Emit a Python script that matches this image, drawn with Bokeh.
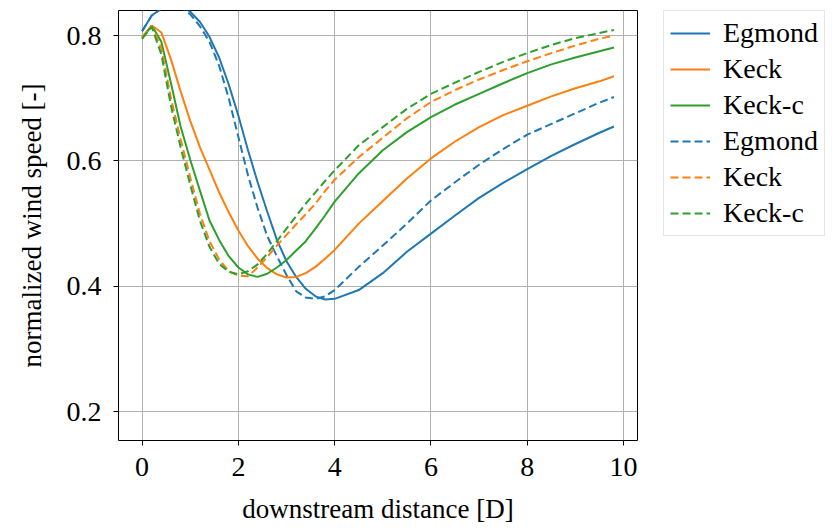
from bokeh.plotting import figure
from bokeh.models import Legend, LegendItem, FixedTicker, Range1d
from bokeh.layouts import row
from bokeh.embed import file_html
from bokeh.resources import INLINE

# downstream distance [D]
distance = [0, 0.2, 0.4, 0.6, 0.8, 1.0, 1.2, 1.4, 1.6, 1.8, 2.0, 2.2, 2.4, 2.6, 2.8,
            3.0, 3.2, 3.4, 3.6, 3.8, 4.0, 4.5, 5.0, 5.5, 6.0, 6.5, 7.0, 7.5, 8.0,
            8.5, 9.0, 9.5, 9.8]

# solid series
egmond_a = [.807, .832, .843, .850, .848, .838, .822, .798, .765, .722, .672, .617, .566,
            .519, .474, .440, .415, .396, .384, .379, .380, .394, .421, .455, .484,
            .513, .541, .565, .587, .608, .627, .645, .655]
keck_a = [.797, .816, .805, .762, .711, .664, .622, .586, .550, .518, .489, .464, .444,
          .429, .419, .414, .415, .421, .431, .444, .458, .500, .536, .572, .604,
          .631, .654, .673, .688, .703, .716, .727, .735]
keckc_a = [.795, .816, .790, .724, .655, .602, .553, .505, .474, .448, .430, .419, .415,
           .420, .430, .442, .457, .472, .492, .513, .535, .580, .617, .646, .670,
           .690, .707, .724, .740, .754, .765, .775, .781]

# dashed series
egmond_b = [.807, .832, .843, .849, .845, .834, .815, .790, .752, .700, .638, .577, .525,
            .480, .448, .418, .392, .382, .380, .384, .394, .431, .465, .500, .537,
            .566, .594, .619, .642, .659, .676, .693, .702]
keck_b = [.797, .816, .780, .700, .635, .574, .516, .472, .443, .424, .417, .416, .430,
          .447, .465, .482, .499, .515, .532, .552, .570, .606, .637, .668, .694,
          .713, .730, .745, .759, .772, .784, .795, .800]
keckc_b = [.795, .814, .770, .688, .622, .562, .505, .463, .436, .423, .419, .424, .435,
           .452, .472, .492, .512, .532, .550, .568, .585, .625, .654, .683, .707,
           .725, .742, .758, .772, .785, .796, .804, .809]

labels = ["Egmond", "Keck", "Keck-c"]
colors = ["#1f77b4", "#ff7f0e", "#2ca02c"]
x_ticks = [0, 2, 4, 6, 8, 10]
y_ticks = [0.2, 0.4, 0.6, 0.8]

FONT = "Liberation Serif"
FS = "27px"

p = figure(width=663, height=528, output_backend="svg", toolbar_location=None,
           x_range=Range1d(-0.49, 10.29), y_range=Range1d(0.154, 0.84),
           min_border_left=118, min_border_right=26, min_border_top=10,
           min_border_bottom=88)

p.outline_line_color = "black"
p.outline_line_width = 1
p.background_fill_color = "white"
p.border_fill_color = "white"

series = [egmond_a, keck_a, keckc_a, egmond_b, keck_b, keckc_b]
for i, ys in enumerate(series):
    dash = "solid" if i < 3 else "8 4"
    p.line(distance, ys, line_color=colors[i % 3], line_width=2, line_dash=dash)

for ax in (p.xaxis[0], p.yaxis[0]):
    ax.axis_line_color = None
    ax.major_tick_line_color = "black"
    ax.major_tick_line_width = 1
    ax.major_tick_out = 5
    ax.major_tick_in = 0
    ax.minor_tick_line_color = None
    ax.major_label_text_font = FONT
    ax.major_label_text_font_size = "28px"
    ax.major_label_text_color = "black"
    ax.axis_label_text_font = FONT
    ax.axis_label_text_font_size = FS
    ax.axis_label_text_font_style = "normal"
    ax.axis_label_text_color = "black"

p.xaxis.ticker = FixedTicker(ticks=x_ticks)
p.yaxis.ticker = FixedTicker(ticks=y_ticks)
p.xaxis.axis_label = "downstream distance [D]"
p.yaxis.axis_label = "normalized wind speed [-]"
p.xaxis.major_label_standoff = 12
p.yaxis.major_label_standoff = 12
p.xaxis.axis_label_standoff = 15
p.yaxis.axis_label_standoff = 17

p.grid.grid_line_color = "#b0b0b0"
p.grid.grid_line_width = 1

# legend panel to the right (separate figure holding the legend glyph styles;
# its sample lines lie outside its ranges, so only the legend shows)
q = figure(width=175, height=528, output_backend="svg", toolbar_location=None,
           x_range=Range1d(0, 1), y_range=Range1d(0, 1),
           min_border_left=0, min_border_right=0, min_border_top=10,
           min_border_bottom=0)
q.axis.visible = False
q.grid.visible = False
q.outline_line_color = None
q.border_fill_color = "white"
q.background_fill_color = "white"

items = []
for i in range(6):
    dash = "solid" if i < 3 else "8 4"
    r = q.line([-5, -4], [-5, -5], line_color=colors[i % 3], line_width=2, line_dash=dash)
    items.append(LegendItem(label=labels[i % 3], renderers=[r]))

legend = Legend(items=items, location="top_left")
legend.label_text_font = FONT
legend.label_text_font_size = "28px"
legend.label_text_color = "black"
legend.glyph_width = 40
legend.glyph_height = 30
legend.label_height = 30
legend.label_standoff = 13
legend.spacing = 4
legend.padding = 6
legend.margin = 0
legend.border_line_color = "#cccccc"
legend.border_line_width = 1
legend.background_fill_color = "white"
legend.background_fill_alpha = 1.0
q.add_layout(legend, "center")

layout = row(p, q)
open("out.html", "w").write(file_html(layout, INLINE))
